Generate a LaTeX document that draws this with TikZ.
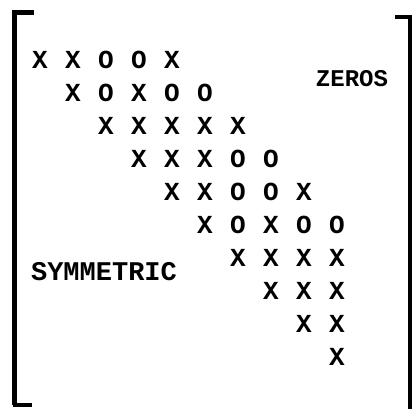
\documentclass[tikz,border=0pt]{standalone}
\usepackage{fontspec}
\setmainfont{Liberation Mono}
\begin{document}
\begin{tikzpicture}[x=1pt,y=-1pt,
  entry/.style={font=\bfseries\fontsize{26}{26}\selectfont, inner sep=0pt, anchor=center},
  label/.style={font=\bfseries\fontsize{27}{27}\selectfont, inner sep=0pt, anchor=center},
  zlabel/.style={font=\bfseries\fontsize{24}{24}\selectfont, inner sep=0pt, anchor=center}]
\useasboundingbox (0,0) rectangle (413,409);
% brackets
\draw[line width=5pt] (34,13) -- (14,13) -- (14,405);
\draw[line width=3.5pt] (12.5,405) -- (32,405);
\draw[line width=4pt] (395,17) -- (410,17) -- (410,409);
% entries
\foreach \r/\row in {1/{X,X,O,O,X},2/{X,O,X,O,O},3/{X,X,X,X,X},4/{X,X,X,O,O},
  5/{X,X,O,O,X},6/{X,O,X,O,O},7/{X,X,X,X},8/{X,X,X},9/{X,X},10/{X}} {
  \foreach \e [count=\k] in \row {
    \pgfmathtruncatemacro{\c}{\r+\k-1}
    \node[entry] (m-\r-\c) at ({40+33*(\c-1)},{60+33*(\r-1)}) {\e};
  }
}
\node[zlabel] (zeros) at (352,79) {ZEROS};
\node[label] (sym) at (104,272) {SYMMETRIC};
\end{tikzpicture}
\end{document}
